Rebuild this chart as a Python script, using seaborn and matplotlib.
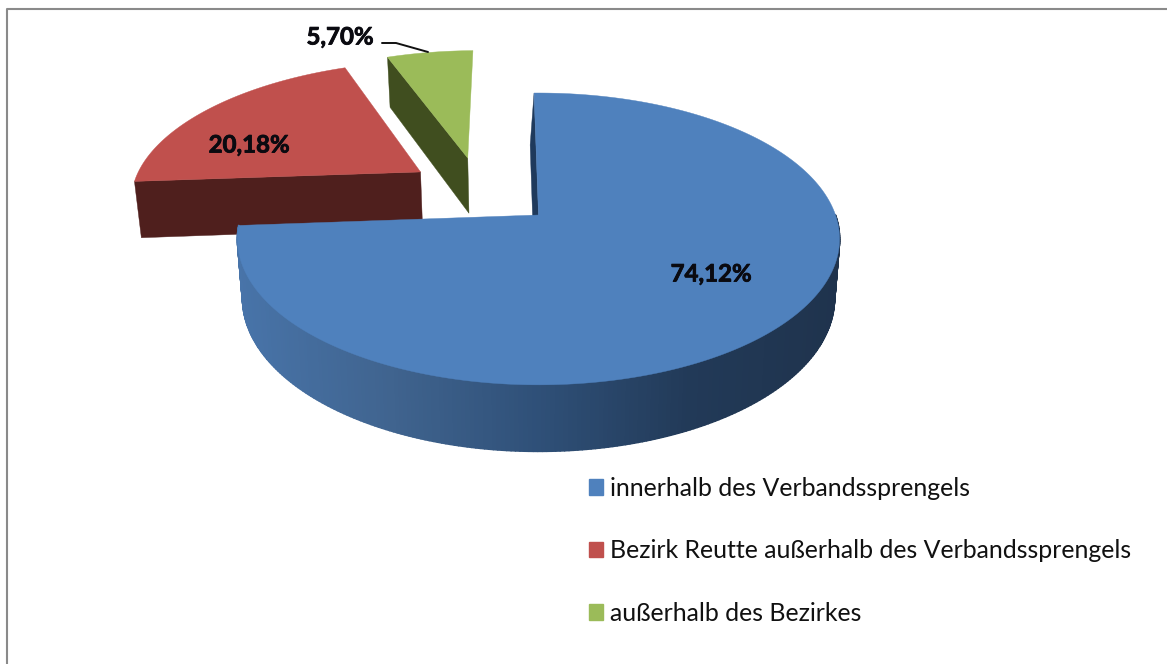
import matplotlib
matplotlib.use('Agg')
import matplotlib.pyplot as plt
import matplotlib.patheffects as pe
from matplotlib.patches import Patch, Polygon
from matplotlib.collections import PolyCollection
import numpy as np
import seaborn as sns

categories = ['innerhalb des Verbandssprengels',
              'Bezirk Reutte außerhalb des Verbandssprengels',
              'außerhalb des Bezirkes']
shares = [74.12, 20.18, 5.70]
top_colors = ['#4f81bd', '#c0504d', '#9bbb59']
side_colors = ['#1f3a5c', '#4f1f1d', '#404e1f']
side_gradient = ['#4874a9', '#40648f', '#2f5078', '#223a58', '#1f334d']

# Abbildung der Tortenebene auf Pixel (perspektivisch)
CX, CY = 538.5, 215
RX, RY = 297, 142
PERSP = 0.164
DEPTH = 58
SHRINK = 0.983
# Verschiebung der herausgezogenen Stücke in der Tortenebene
slice_shift = [(0.0, 0.0), (-0.418, 0.319), (-0.255, 0.429)]


def project(u, v, lower=False):
    u, v = np.asarray(u, float), np.asarray(v, float)
    den = 1 + PERSP * v
    x = CX + RX * u / den
    y = CY - RY * v / den
    if lower:
        x = 540 + (x - 540) * SHRINK
        y = CY + (y - CY) * SHRINK + DEPTH / den
    return np.column_stack([x, y])


def slice_outline(theta1, theta2, shift, lower=False):
    t = np.radians(np.linspace(theta1, theta2, 240))
    u = np.r_[shift[0], shift[0] + np.cos(t)]
    v = np.r_[shift[1], shift[1] + np.sin(t)]
    return project(u, v, lower)


def edge_face(theta, shift, color, bottom_dx=0.0):
    t = np.radians(theta)
    u = [shift[0] + np.cos(t), shift[0]]
    v = [shift[1] + np.sin(t), shift[1]]
    up = project(u, v)
    low = project(u, v, lower=True)
    low[:, 0] += bottom_dx
    ax.add_patch(Polygon(np.vstack([up, low[::-1]]), closed=True, fc=color, ec=color, lw=0.3))


sns.set_theme(style='white')
plt.rcParams['font.family'] = ['Lato', 'DejaVu Sans']

fig = plt.figure(figsize=(11.67, 6.64), dpi=100, facecolor='white')
ax = fig.add_axes([0, 0, 1, 1])

# Winkel kommen aus ax.pie, gezeichnet wird danach in Perspektive
wedges, _ = ax.pie(shares, startangle=91, counterclock=False, colors=top_colors)
for w in wedges:
    w.set_visible(False)
ax.set_aspect('auto')
ax.set_xlim(0, 1167)
ax.set_ylim(664, 0)
ax.axis('off')

# Rahmen
ax.plot([7, 7, 1167], [664, 8.5, 8.5], color='#8a8a8a', lw=1.5, solid_capstyle='butt')

# rotes und grünes Stück
edge_face(wedges[1].theta2, slice_shift[1], side_colors[1])
ax.add_patch(Polygon(slice_outline(wedges[1].theta1, wedges[1].theta2, slice_shift[1]),
                     closed=True, fc=top_colors[1], ec=top_colors[1], lw=0.3))
edge_face(wedges[2].theta2, slice_shift[2], side_colors[2])
ax.add_patch(Polygon(slice_outline(wedges[2].theta1, wedges[2].theta2, slice_shift[2]),
                     closed=True, fc=top_colors[2], ec=top_colors[2], lw=0.3))

# blaues Stück: Mantel mit Farbverlauf, nur die vordere Hälfte ist sichtbar
blue = wedges[0]
t = np.radians(np.linspace(blue.theta1, 0, 241))
up = project(np.cos(t), np.sin(t))
low = project(np.cos(t), np.sin(t), lower=True)
quads = [np.vstack([up[i], up[i + 1], low[i + 1], low[i]]) for i in range(len(t) - 1)]
cmap = sns.blend_palette(side_gradient, as_cmap=True)
quad_colors = [cmap((q[:, 0].mean() - 240) / 600) for q in quads]
ax.add_collection(PolyCollection(quads, facecolors=quad_colors, edgecolors=quad_colors, linewidths=1.2))
edge_face(blue.theta2, (0, 0), side_colors[0], bottom_dx=-4)
ax.add_patch(Polygon(slice_outline(blue.theta1, blue.theta2, (0, 0)),
                     closed=True, fc=top_colors[0], ec=top_colors[0], lw=0.3))

# Beschriftung
label_pos = [(711, 274), (249, 145), (340, 37)]
for share, (x, y) in zip(shares, label_pos):
    ax.text(x, y, f'{share:.2f}%'.replace('.', ','), ha='center', va='center',
            fontsize=17.3, fontweight='bold', color='#0a0a10',
            path_effects=[pe.withStroke(linewidth=0.6, foreground='#0a0a10')])
ax.plot([382, 396, 428], [43, 43, 52], color='#111111', lw=1.4)

handles = [Patch(color=c) for c in top_colors]
ax.legend(handles, categories, loc='upper left', bbox_to_anchor=(589 / 1167, 1 - 477 / 664),
          frameon=False, fontsize=17.9, labelspacing=1.58, handlelength=0.56, handleheight=0.6,
          handletextpad=0.28, labelcolor='#111111', borderpad=0, borderaxespad=0)

fig.savefig('out.png', dpi=100, facecolor='white')
